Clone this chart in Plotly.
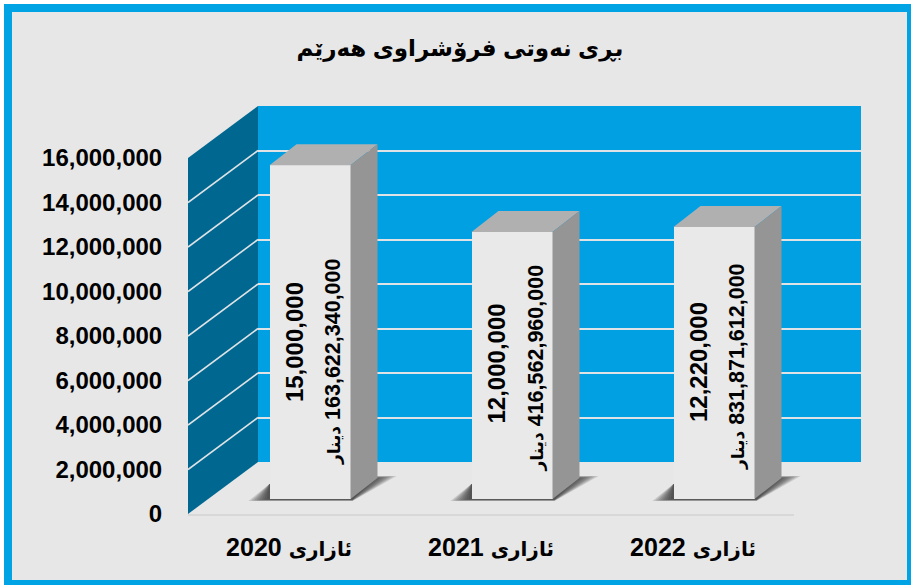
import plotly.graph_objects as go

# ---- data ----
title_text = "بڕی نەوتی فرۆشراوی هەرێم"
years = ["2020", "2021", "2022"]
month = "ئازاری"
barrels = [15000000, 12000000, 12220000]
barrel_labels = ["15,000,000", "12,000,000", "12,220,000"]
dinar_amounts = ["163,622,340,000", "416,562,960,000", "831,871,612,000"]
currency = "دینار"
y_ticks = [0, 2000000, 4000000, 6000000, 8000000, 10000000, 12000000, 14000000, 16000000]
y_ticklabels = ["0", "2,000,000", "4,000,000", "6,000,000", "8,000,000", "10,000,000",
                "12,000,000", "14,000,000", "16,000,000"]

# ---- geometry (pixels of the 911x585 canvas) ----
W, H = 911, 585
CAT_PX = 202.0
UNITS_PER_PX = 16000000 / 356.0
X0, Y0 = 188, 514           # front plane origin
WALL_DX, WALL_DY = 70, 52   # back wall offset
BAR_DX, BAR_DY = 21, 15     # bar front plane offset
TOP_DX, TOP_DY = 27, 21     # bar depth
BAR_W = 81 / CAT_PX

def fx(px): return px / W
def fy(py): return 1 - py / H
def ux(px): return px / CAT_PX
def uy(px): return px * UNITS_PER_PX

WALL = "#00a0e3"
SIDE = "#006890"
BG = "#e7e7e7"
GRID = "#dfe3e5"
FONT = "Liberation Sans, Arial, DejaVu Sans"

fig = go.Figure()

# side wall and its slanted grid lines (front axes)
fig.add_trace(go.Scatter(
    x=[-0.5, -0.5 + ux(WALL_DX), -0.5 + ux(WALL_DX), -0.5],
    y=[0, uy(WALL_DY), 16000000 + uy(WALL_DY), 16000000],
    fill="toself", fillcolor=SIDE, mode="none", xaxis="x2", yaxis="y2",
    showlegend=False, hoverinfo="skip"))
for v in y_ticks[1:-1]:
    fig.add_trace(go.Scatter(
        x=[-0.5, -0.5 + ux(WALL_DX)], y=[v, v + uy(WALL_DY)],
        mode="lines", line=dict(color=GRID, width=1.6), xaxis="x2", yaxis="y2",
        showlegend=False, hoverinfo="skip"))

# floor front edge
fig.add_trace(go.Scatter(
    x=[-0.5, 2.5], y=[uy(-1), uy(-1)], mode="lines",
    line=dict(color="#d8d8d8", width=2), xaxis="x2", yaxis="y2",
    showlegend=False, hoverinfo="skip"))

# soft bar shadows on the floor (front axes)
for i in range(len(barrels)):
    left = i - BAR_W / 2 + ux(BAR_DX)
    right = i + BAR_W / 2 + ux(BAR_DX)
    for k in range(8):
        fig.add_trace(go.Scatter(
            x=[left - ux(21 - 2.6 * k), right + ux(2), right + ux(46 - 3 * k),
               right + ux(TOP_DX), left],
            y=[uy(BAR_DY - 2 + 0.2 * k), uy(BAR_DY - 2 + 0.2 * k),
               uy(BAR_DY + 23 - 0.3 * k), uy(BAR_DY + 23 - 0.3 * k), uy(BAR_DY + 15)],
            fill="toself", fillcolor="rgba(40,40,40,0.16)", mode="none",
            xaxis="x2", yaxis="y2", showlegend=False, hoverinfo="skip"))

# invisible trace carrying the back wall axes, so its grid is drawn
fig.add_trace(go.Scatter(x=[-0.5, 2.5], y=[0, 16000000], mode="none",
                         xaxis="x", yaxis="y", showlegend=False, hoverinfo="skip"))

# bar front faces
fig.add_trace(go.Bar(
    x=[0, 1, 2], y=barrels, width=BAR_W, marker=dict(color="#e9e9e9", line=dict(width=0)),
    xaxis="x3", yaxis="y3", showlegend=False, hoverinfo="skip"))

# bar top and right faces, derived from the values
for i, v in enumerate(barrels):
    l, r = i - BAR_W / 2, i + BAR_W / 2
    fig.add_trace(go.Scatter(
        x=[l, r, r + ux(TOP_DX), l + ux(TOP_DX)],
        y=[v, v, v + uy(TOP_DY), v + uy(TOP_DY)],
        fill="toself", fillcolor="#b0b0b0", mode="none",
        xaxis="x3", yaxis="y3", showlegend=False, hoverinfo="skip"))
    fig.add_trace(go.Scatter(
        x=[r, r + ux(TOP_DX), r + ux(TOP_DX), r],
        y=[v, v + uy(TOP_DY), uy(TOP_DY), 0],
        fill="toself", fillcolor="#959595", mode="none",
        xaxis="x3", yaxis="y3", showlegend=False, hoverinfo="skip"))

# rotated data labels
shift1 = [-10, 2, 1]
shift2 = [-30, -3, -4]
annotations = []
for i, v in enumerate(barrels):
    annotations.append(dict(
        x=i, y=v / 2, xref="x3", yref="y3", text=barrel_labels[i], textangle=-90,
        showarrow=False, xshift=-16, yshift=shift1[i],
        font=dict(family=FONT, size=24, color="black", weight="bold")))
    annotations.append(dict(
        x=i, y=v / 2, xref="x3", yref="y3",
        text=f'<span style="font-size:17px">{currency}</span> \u200e{dinar_amounts[i]}',
        textangle=-90, showarrow=False, xshift=23, yshift=shift2[i],
        font=dict(family=FONT, size=21.5, color="black", weight="bold")))

shapes = [
    dict(type="rect", xref="paper", yref="paper", x0=fx(4), x1=fx(911), y0=fy(585), y1=fy(4),
         fillcolor="#00a3e4", line=dict(width=0), layer="below"),
    dict(type="rect", xref="paper", yref="paper", x0=fx(12), x1=fx(907), y0=fy(580), y1=fy(12),
         fillcolor=BG, line=dict(width=0), layer="below"),
    dict(type="rect", xref="x", yref="y", x0=-0.5, x1=2.5, y0=0, y1=16000000,
         fillcolor=WALL, line=dict(width=0), layer="below"),
]

FRONT_RIGHT, FRONT_TOP, FRONT_BOTTOM = 880, 100, 522
axis_off = dict(showticklabels=False, showline=False, zeroline=False, ticks="")
x_ticktext = [f'{y} <span style="font-size:20px">{month}</span>' for y in years]

fig.update_layout(
    width=W, height=H, margin=dict(l=0, r=0, t=0, b=0, autoexpand=False), autosize=False,
    paper_bgcolor="white", plot_bgcolor="rgba(0,0,0,0)",
    bargap=0, showlegend=False,
    title=dict(text=title_text, x=fx(460), y=fy(48), xanchor="center", yanchor="middle",
               xref="paper", yref="paper",
               font=dict(family=FONT, size=23, color="black", weight="bold")),
    # back wall axes
    xaxis=dict(domain=[fx(X0 + WALL_DX), fx(861)], range=[-0.5, 2.5], showgrid=False, **axis_off),
    yaxis=dict(domain=[fy(Y0 - WALL_DY), fy(Y0 - WALL_DY - 356)], range=[0, 16000000],
               tickvals=y_ticks, showgrid=True, gridcolor=GRID, gridwidth=2, **axis_off),
    # front plane axes
    xaxis2=dict(domain=[fx(X0), fx(FRONT_RIGHT)], anchor="y2",
                range=[-0.5, -0.5 + ux(FRONT_RIGHT - X0)],
                tickvals=[0, 1, 2], ticktext=x_ticktext, showgrid=False, zeroline=False, showline=False,
                ticks="outside", ticklen=3, tickcolor="rgba(0,0,0,0)",
                tickfont=dict(family=FONT, size=25, color="black", weight="bold")),
    yaxis2=dict(domain=[fy(FRONT_BOTTOM), fy(FRONT_TOP)], anchor="x2",
                range=[uy(Y0 - FRONT_BOTTOM), uy(Y0 - FRONT_TOP)],
                tickvals=y_ticks, ticktext=y_ticklabels, showgrid=False, zeroline=False, showline=False,
                ticks="outside", ticklen=20, tickcolor="rgba(0,0,0,0)",
                tickfont=dict(family=FONT, size=24, color="black", weight="bold")),
    # bar axes
    xaxis3=dict(domain=[fx(X0 + BAR_DX), fx(X0 + BAR_DX + 606)], anchor="y3", range=[-0.5, 2.5],
                showgrid=False, **axis_off),
    yaxis3=dict(domain=[fy(Y0 - BAR_DY), fy(Y0 - BAR_DY - 356)], anchor="x3", range=[0, 16000000],
                showgrid=False, **axis_off),
    annotations=annotations, shapes=shapes,
)

fig.write_html("out.html", config={"displayModeBar": False},
               post_script="document.body.style.margin='0';document.body.style.overflow='hidden';")
